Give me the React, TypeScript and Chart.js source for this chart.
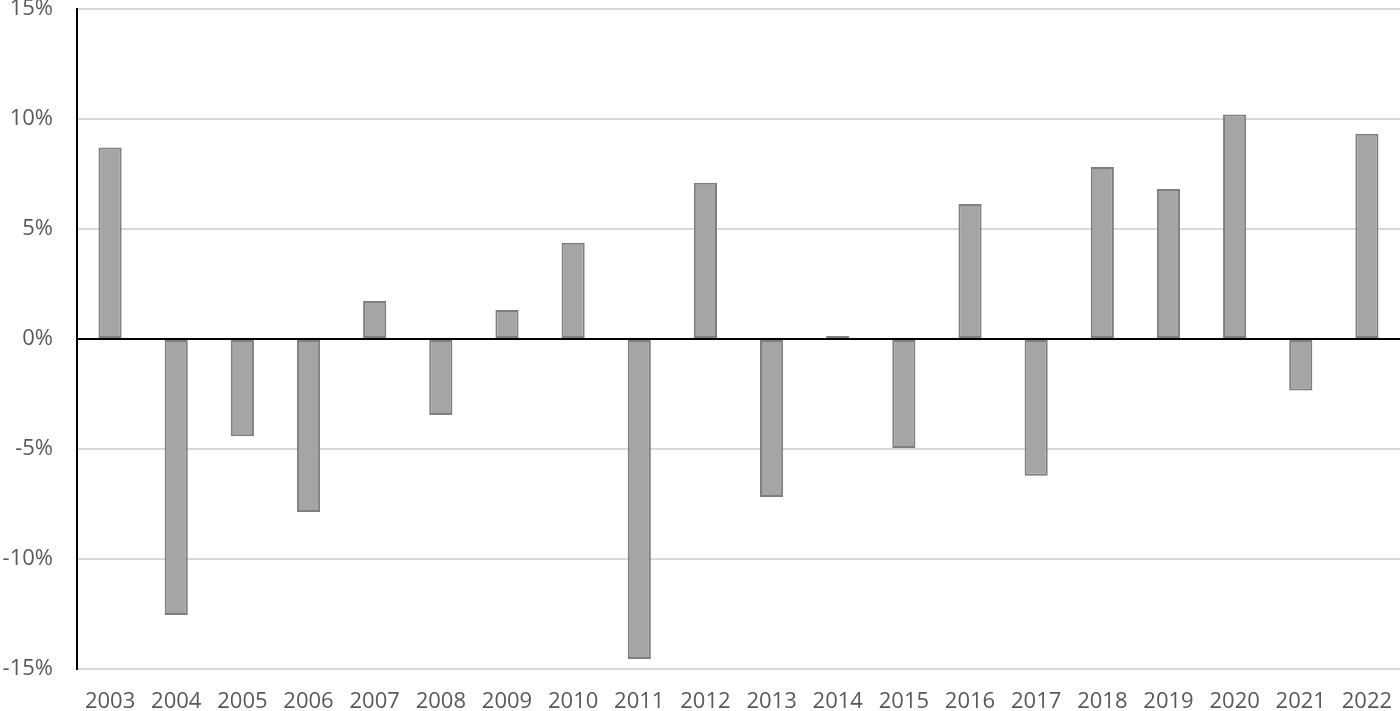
import React, { useEffect, useRef } from "react";
import { Chart, registerables } from "chart.js";

Chart.register(...registerables);

const years = ["2003","2004","2005","2006","2007","2008","2009","2010","2011","2012","2013","2014","2015","2016","2017","2018","2019","2020","2021","2022"];
const returns = [8.7, -12.55, -4.42, -7.86, 1.73, -3.45, 1.32, 4.38, -14.55, 7.1, -7.18, 0.05, -4.95, 6.14, -6.22, 7.82, 6.82, 10.2, -2.34, 9.33];
const yMin = -15;
const yMax = 15;
const yStep = 5;

const FONT = "'Open Sans', sans-serif";

const zeroLinePlugin = {
  id: "zeroLine",
  afterDatasetsDraw(chart: any) {
    const y = chart.scales.y;
    const area = chart.chartArea;
    const py = y.getPixelForValue(0);
    const ctx = chart.ctx;
    ctx.save();
    ctx.strokeStyle = "#000000";
    ctx.lineWidth = 2;
    ctx.beginPath();
    ctx.moveTo(area.left, py);
    ctx.lineTo(area.right, py);
    ctx.stroke();
    ctx.restore();
  },
};

export default function App() {
  const ref = useRef<HTMLCanvasElement | null>(null);
  useEffect(() => {
    if (!ref.current) return;
    const chart = new Chart(ref.current, {
      type: "bar",
      data: {
        labels: years,
        datasets: [
          {
            data: returns,
            backgroundColor: "#a5a5a5",
            borderColor: "#7f7f7f",
            borderWidth: 2,
            borderSkipped: false,
            minBarLength: 3,
            barPercentage: 0.35,
            categoryPercentage: 1,
          },
        ],
      },
      options: {
        responsive: false,
        animation: false,
        layout: { padding: { top: 9, right: 0, left: 0, bottom: 0 } },
        plugins: { legend: { display: false }, tooltip: { enabled: false } },
        scales: {
          x: {
            grid: { display: false, drawTicks: false },
            border: { display: false },
            ticks: {
              color: "#595959",
              font: { family: FONT, size: 22 },
              padding: 20,
              maxRotation: 0,
              autoSkip: false,
            },
            afterFit(scale: any) {
              scale.height = 42;
              scale.paddingLeft = 0;
              scale.paddingRight = 0;
            },
          },
          y: {
            min: yMin,
            max: yMax,
            grid: {
              color: "#d9d9d9",
              lineWidth: 2,
              drawTicks: false,
            },
            border: { display: true, color: "#000000", width: 2 },
            ticks: {
              stepSize: yStep,
              color: "#595959",
              font: { family: FONT, size: 22 },
              padding: 24,
              callback: (v: any) => `${v}%`,
            },
            afterFit(scale: any) {
              scale.width = 77;
              scale.paddingTop = 0;
              scale.paddingBottom = 0;
            },
          },
        },
      },
      plugins: [zeroLinePlugin],
    });
    return () => chart.destroy();
  }, []);
  return (
    <div style={{ position: "absolute", left: 0, top: 0, width: 1400, height: 711, background: "#fff" }}>
      <canvas ref={ref} width={1400} height={711} style={{ display: "block" }} />
    </div>
  );
}
